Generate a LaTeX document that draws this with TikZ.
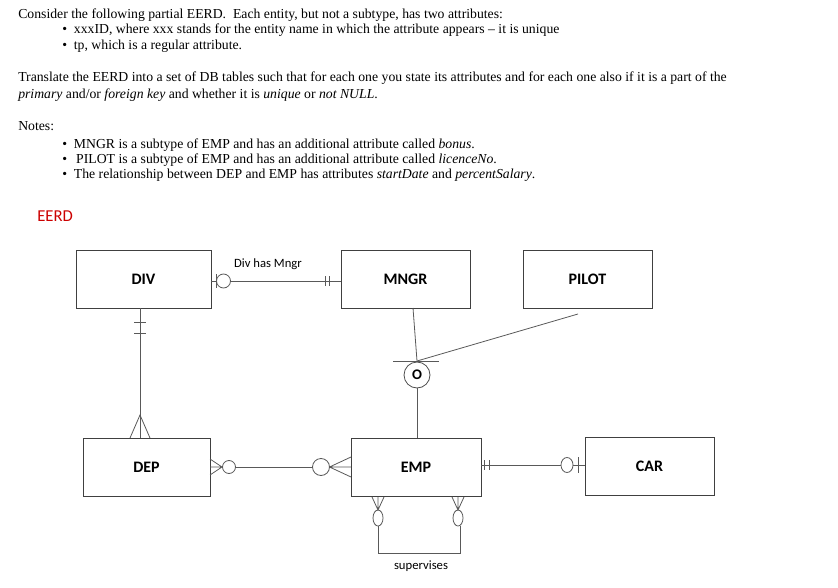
\documentclass[tikz,border=0pt]{standalone}
\usepackage{fontspec}
\setmainfont{Liberation Serif}
\newfontfamily\carl{Carlito}
\begin{document}
\begin{tikzpicture}[x=0.75pt,y=-0.75pt,
 ent/.style={draw=black!75,line width=0.6pt,minimum width=#1,minimum height=58*0.75pt,font=\carl\bfseries\fontsize{12}{14}\selectfont,inner sep=0},
 ln/.style={draw=black!65,line width=0.6pt},
 txt/.style={anchor=base west,inner sep=0,font=\fontsize{10.3}{12}\selectfont}]
\useasboundingbox (0,0) rectangle (838,588);
% text
\node[txt] (t1) at (18,19) {Consider the following partial EERD.\ \ Each entity, but not a subtype, has two attributes:};
\node[txt] (b1) at (62,34) {\textbullet\ \ xxxID, where xxx stands for the entity name in which the attribute appears -- it is unique};
\node[txt] (b2) at (62,50) {\textbullet\ \ tp, which is a regular attribute.};
\node[txt] (t2) at (18,82) {Translate the EERD into a set of DB tables such that for each one you state its attributes and for each one also if it is a part of the};
\node[txt] (t3) at (18,99) {\textit{primary} and/or \textit{foreign key} and whether it is \textit{unique} or \textit{not NULL}.};
\node[txt] (t4) at (18,131) {Notes:};
\node[txt] (n1) at (62,148) {\textbullet\ \ MNGR is a subtype of EMP and has an additional attribute called \textit{bonus}.};
\node[txt] (n2) at (62,163) {\textbullet\ \ \,PILOT is a subtype of EMP and has an additional attribute called \textit{licenceNo}.};
\node[txt] (n3) at (62,179) {\textbullet\ \ The relationship between DEP and EMP has attributes \textit{startDate} and \textit{percentSalary}.};
\node[anchor=base west,inner sep=0,text=red!80!black,font=\carl\fontsize{12.5}{14}\selectfont] (ee) at (37,221) {EERD};
% entities
\node[ent=135*0.75pt] (div) at (143.5,279) {DIV};
\node[ent=129*0.75pt] (mngr) at (405.5,279) {MNGR};
\node[ent=129*0.75pt] (pilot) at (587.5,279) {PILOT};
\node[ent=127*0.75pt] (dep) at (146.5,467) {DEP};
\node[ent=130*0.75pt] (emp) at (416,467.5) {EMP};
\node[ent=129*0.75pt] (car) at (649.5,466) {CAR};
% DIV - MNGR
\node[inner sep=0,font=\carl\fontsize{9.5}{11}\selectfont] (dhm) at (268,264) {Div has Mngr};
\coordinate (c1) at (230,281);
\draw[ln] (div.east|-c1) -- (216.5,281) (216.5,274) -- (216.5,288);
\draw[ln] (223.5,281) circle (7);
\draw[ln] (230.5,281) -- (mngr.west|-c1);
\draw[ln] (325,276) -- (325,286) (329,276) -- (329,286);
% DIV - DEP
\draw[ln] (div.south-|140,0) -- (dep.north-|140,0);
\draw[ln] (134,322) -- (146,322) (134,333) -- (146,333);
\draw[ln] (130,438) -- (140,415) -- (150,438);
% ISA
\coordinate (j) at (417,361);
\draw[ln] (413,308) -- (j);
\draw[ln] (393,361) -- (439,361);
\draw[ln] (j) -- (578,314);
\node[draw=black!70,circle,line width=0.6pt,minimum size=26*0.75pt,inner sep=0,font=\carl\bfseries\fontsize{11}{12}\selectfont] (o) at (417,375) {O};
\draw[ln] (o.south) -- (emp.north-|o.south);
% DEP - EMP
\draw[ln] (210,459) -- (222,467) -- (210,475) (210,467) -- (222,467);
\draw[ln] (229,467) circle (6.5);
\draw[ln] (235.5,467) -- (312.5,467);
\draw[ln] (321,467) circle (8.5);
\draw[ln] (351,457) -- (329.5,467) -- (351,477) (329.5,467) -- (351,467);
% EMP - CAR
\draw[ln] (emp.east|-0,465) -- (561,465);
\draw[ln] (484,460) -- (484,470) (489,460) -- (489,470);
\draw[ln] (567,465) ellipse (6 and 7.5);
\draw[ln] (573,465) -- (car.west|-0,465);
\draw[ln] (578,457) -- (578,473);
% supervises
\draw[ln] (372,497) -- (378,510) -- (384,497) (378,497) -- (378,510);
\draw[ln] (378,518) ellipse (5 and 8);
\draw[ln] (452,497) -- (458,510) -- (464,497) (458,497) -- (458,510);
\draw[ln] (458,518) ellipse (5 and 8);
\draw[ln] (378,526) -- (378,553) -- (460,553) -- (460,526);
\node[inner sep=0,font=\carl\fontsize{9.5}{11}\selectfont] (sup) at (421,566) {supervises};
\end{tikzpicture}
\end{document}
